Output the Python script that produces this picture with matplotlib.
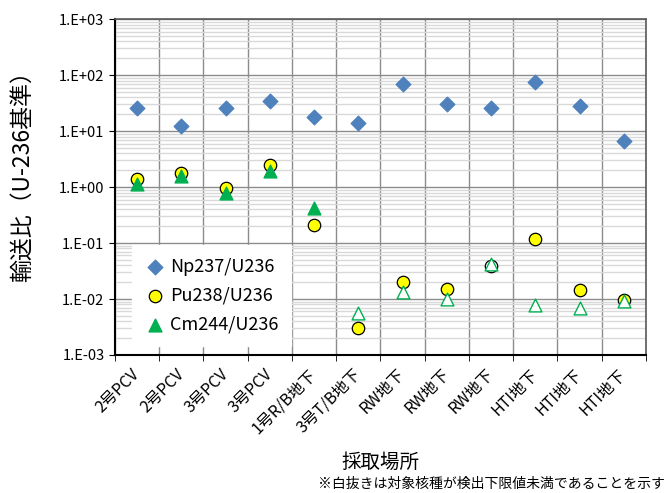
import numpy as np
import matplotlib
matplotlib.use("Agg")
import matplotlib.pyplot as plt
from matplotlib.ticker import LogLocator, FixedLocator, NullFormatter, FuncFormatter

plt.rcParams['font.family'] = ['Noto Sans CJK JP', 'DejaVu Sans']

# data
sites = ["2号PCV", "2号PCV", "3号PCV", "3号PCV", "1号R/B地下", "3号T/B地下",
         "RW地下", "RW地下", "RW地下", "HTI地下", "HTI地下", "HTI地下"]
np237 = [25.8, 12.3, 26.0, 34.0, 17.8, 13.9, 69.0, 30.0, 26.0, 75.0, 28.0, 6.6]
pu238 = [1.39, 1.78, 0.96, 2.47, 0.21, 0.0030, 0.020, 0.015, 0.039, 0.12, 0.0145, 0.0096]
cm244 = [1.13, 1.60, 0.78, 1.93, 0.42, 0.0056, 0.0133, 0.010, 0.042, 0.0078, 0.0069, 0.0092]
# True = below detection limit (drawn hollow)
pu_nd = [False] * 8 + [True] + [False] * 3
cm_nd = [False] * 5 + [True] * 7

fig = plt.figure(figsize=(6.68, 4.93), dpi=100)
ax = fig.add_axes([0.172, 0.280, 0.795, 0.681])

x = np.arange(len(sites))
blue = "#4F81BD"
green = "#00B050"

ax.scatter(x, np237, marker="D", s=55, color=blue, zorder=3, label="Np237/U236")

pu = np.array(pu238)
nd = np.array(pu_nd)
ax.scatter(x[~nd], pu[~nd], marker="o", s=80, facecolor="#FFFF00", edgecolor="black",
           linewidth=0.9, zorder=3, label="Pu238/U236")
ax.scatter(x[nd], pu[nd], marker="o", s=80, facecolor="white", edgecolor="black",
           linewidth=0.9, zorder=3)

cm = np.array(cm244)
nd = np.array(cm_nd)
ax.scatter(x[~nd], cm[~nd], marker="^", s=85, color=green, zorder=4, label="Cm244/U236")
ax.scatter(x[nd], cm[nd], marker="^", s=85, facecolor="white", edgecolor=green,
           linewidth=1.0, zorder=4)

ax.set_yscale("log")
ax.set_ylim(1e-3, 1e3)
ax.set_xlim(-0.5, len(sites) - 0.5)

ax.yaxis.set_major_locator(LogLocator(base=10, numticks=10))
ax.yaxis.set_minor_locator(LogLocator(base=10, subs=np.arange(2, 10), numticks=20))
ax.yaxis.set_minor_formatter(NullFormatter())
ax.yaxis.set_major_formatter(FuncFormatter(lambda v, p: "1.E%+03d" % int(round(np.log10(v)))))

ax.set_xticks(x)
ax.set_xticklabels(sites, rotation=45, ha="right", va="center", rotation_mode="anchor",
                   fontsize=11.5)
ax.tick_params(axis="x", length=0, pad=12)
ax.xaxis.set_minor_locator(FixedLocator(np.arange(-0.5, len(sites), 1.0)))
ax.tick_params(axis="x", which="minor", length=4, direction="out", color="black")
ax.tick_params(axis="y", which="major", length=4, direction="out", labelsize=10.5)
ax.tick_params(axis="y", which="minor", length=0)

ax.grid(True, axis="y", which="major", color="#8C8C8C", linewidth=1.0, zorder=0)
ax.grid(True, axis="y", which="minor", color="#D9D9D9", linewidth=1.0, zorder=0)
ax.grid(True, axis="x", which="minor", color="#8C8C8C", linewidth=1.0, zorder=0)
ax.set_axisbelow(True)

for side in ["left", "bottom"]:
    ax.spines[side].set_color("black")
    ax.spines[side].set_linewidth(1.5)
for side in ["top", "right"]:
    ax.spines[side].set_color("#595959")
    ax.spines[side].set_linewidth(1.2)

ax.set_ylabel("輸送比（U-236基準）", fontsize=16.5)
ax.yaxis.set_label_coords(-0.152, 0.55)
ax.set_xlabel("採取場所", fontsize=14, labelpad=11)

leg = ax.legend(loc="lower left", bbox_to_anchor=(0.015, 0.0), fontsize=13,
                frameon=True, framealpha=1.0, edgecolor="white", fancybox=False,
                handletextpad=0.2, labelspacing=0.6, borderpad=0.7, handlelength=1.2)

fig.text(0.995, 0.004, "※白抜きは対象核種が検出下限値未満であることを示す", ha="right", va="bottom",
         fontsize=10)

fig.savefig("out.png", dpi=100)
